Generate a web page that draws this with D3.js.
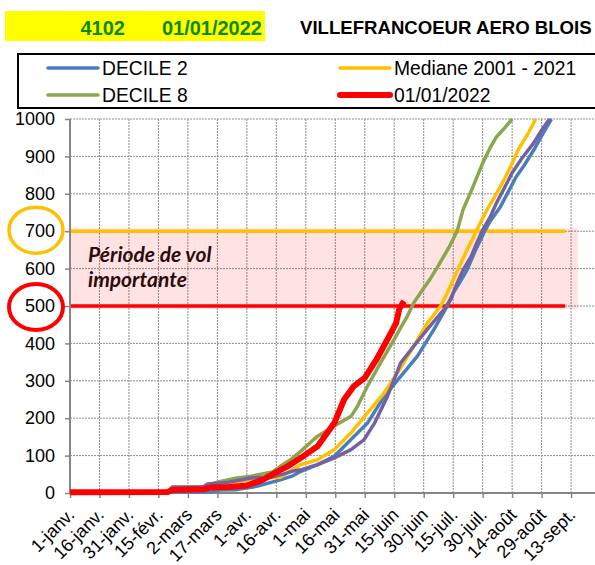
<!DOCTYPE html>
<html>
<head>
<meta charset="utf-8">
<script src="https://cdn.jsdelivr.net/npm/d3@7"></script>
<style>
  body { margin: 0; background: #fff; }
  svg { display: block; font-family: "Liberation Sans", Arial, sans-serif; }
</style>
</head>
<body>
<div class="chart_container"></div>
<script>
// x = days since 1 january
var tickLabels = ["1-janv.", "16-janv.", "31-janv.", "15-févr.", "2-mars", "17-mars", "1-avr.", "16-avr.",
    "1-mai", "16-mai", "31-mai", "15-juin", "30-juin", "15-juil.", "30-juil.", "14-août", "29-août", "13-sept."];
var yTicks = [0, 100, 200, 300, 400, 500, 600, 700, 800, 900, 1000];

var decile2Days = [0, 30, 50, 72, 76, 85, 88, 95, 100, 107, 113, 117.5, 126, 134.5, 143, 151.4, 160, 168.3, 176.8, 185.3, 192, 195, 198, 202, 206, 211, 214, 219, 223, 227, 231, 236, 240, 245];
var decile2Vals = [0, 1, 2, 3, 8, 9, 12, 18, 25, 35, 45, 58, 76, 98, 143, 187, 259, 312, 366, 438, 500, 535, 560, 596, 645, 700, 728, 765, 805, 845, 875, 917, 955, 1000];

var decile8Days = [0, 50, 52, 68, 72, 76, 85, 92, 103, 108, 112, 117.5, 126, 134.5, 143, 146.3, 151.4, 158, 165, 168.3, 171.7, 175, 178.5, 183, 187, 193, 197, 200, 205, 210, 214, 217, 221, 225];
var decile8Vals = [2, 3, 14, 16, 24, 30, 40, 45, 56, 75, 88, 112, 152, 179, 205, 232, 286, 348, 411, 442, 473, 509, 536, 570, 604, 658, 700, 757, 818, 882, 925, 952, 975, 1000];

var medianDays = [0, 45, 55, 70, 80, 90, 100, 107, 112, 117.5, 126, 134.5, 143, 151.4, 159.9, 168.3, 175, 181.9, 188.7, 192, 195, 199, 202, 205, 207, 210, 213, 217, 220, 224, 228, 233, 237];
var medianVals = [2, 3, 10, 12, 25, 35, 40, 42, 58, 76, 89, 116, 161, 214, 268, 335, 393, 455, 500, 535, 570, 615, 650, 680, 703, 735, 765, 800, 829, 870, 917, 960, 1000];

var otherDays = [0, 50, 52, 68, 70, 81, 92, 103, 108, 113, 117.5, 126, 134.5, 143, 149.7, 155, 161.6, 168.3, 175, 181.9, 190.4, 193.8, 197, 200, 204, 207, 210, 214, 217, 221, 225, 230, 236, 240, 244];
var otherVals = [2, 3, 16, 17, 24, 29, 40, 43, 50, 58, 62, 76, 94, 116, 143, 187, 259, 348, 393, 438, 491, 518, 561, 596, 631, 668, 703, 740, 775, 815, 856, 895, 936, 970, 1000];

var y2022Days = [0, 50, 52, 68, 72, 81, 90, 98, 103, 107, 111, 117.5, 126, 134.5, 139.5, 144.5, 150, 156, 162.5, 166, 167.5, 169, 170];
var y2022Vals = [2, 3, 8, 10, 15, 16, 20, 35, 50, 61, 72, 94, 125, 187, 250, 286, 308, 357, 420, 455, 491, 505, 513];

var thresholdLow = 500;
var thresholdHigh = 700;

var width = 595, height = 565;
var svg = d3.select(".chart_container").append("svg")
    .attr("width", width)
    .attr("height", height);

var x = d3.scaleLinear().domain([0, 270]).range([70, 70 + 270 * 1.965]);
var y = d3.scaleLinear().domain([0, 1000]).range([493, 119]);

// title
svg.append("rect")
    .attr("x", 5).attr("y", 11).attr("width", 260).attr("height", 30)
    .style("fill", "#ffff00");
svg.append("text")
    .attr("x", 125).attr("y", 35)
    .attr("text-anchor", "end")
    .style("font-size", "20px").style("font-weight", "bold").style("fill", "#0a8a0a")
    .text("4102");
svg.append("text")
    .attr("x", 262).attr("y", 35)
    .attr("text-anchor", "end")
    .style("font-size", "20px").style("font-weight", "bold").style("fill", "#0a8a0a")
    .text("01/01/2022");
svg.append("text")
    .attr("x", 300).attr("y", 34)
    .style("font-size", "18.6px").style("font-weight", "bold").style("fill", "#000")
    .text("VILLEFRANCOEUR AERO BLOIS");

// legend
var legend = svg.append("g");
legend.append("rect")
    .attr("x", 18).attr("y", 54).attr("width", 620).attr("height", 54)
    .style("fill", "#fff").style("stroke", "#000").style("stroke-width", 2);
var legendItems = [
    {label: "DECILE 2", color: "#4a7ebb", w: 3.5, lx: 48, ly: 68},
    {label: "DECILE 8", color: "#8aa64e", w: 3.5, lx: 48, ly: 95},
    {label: "Mediane 2001 - 2021", color: "#ffc000", w: 3.5, lx: 340, ly: 68},
    {label: "01/01/2022", color: "#ff0000", w: 6, lx: 340, ly: 95}
];
legend.selectAll(".legline")
    .data(legendItems)
    .enter().append("line")
        .attr("x1", d => d.lx).attr("x2", d => d.lx + 50)
        .attr("y1", d => d.ly).attr("y2", d => d.ly)
        .style("stroke", d => d.color)
        .style("stroke-width", d => d.w)
        .style("stroke-linecap", "round");
legend.selectAll(".legtext")
    .data(legendItems)
    .enter().append("text")
        .attr("x", d => d.lx + 54).attr("y", d => d.ly + 7)
        .style("font-size", "19.3px")
        .text(d => d.label);

// grid
var grid = svg.append("g");
grid.selectAll(".hgrid")
    .data(yTicks.slice(1))
    .enter().append("line")
        .attr("x1", x(0)).attr("x2", width)
        .attr("y1", d => y(d)).attr("y2", d => y(d))
        .style("stroke", "#8c8c8c").style("stroke-width", 1).style("stroke-dasharray", "2,1");
grid.selectAll(".vgrid")
    .data(tickLabels.slice(1))
    .enter().append("line")
        .attr("x1", (d, i) => x((i + 1) * 15)).attr("x2", (d, i) => x((i + 1) * 15))
        .attr("y1", y(1000)).attr("y2", y(0))
        .style("stroke", "#8c8c8c").style("stroke-width", 1).style("stroke-dasharray", "2,1");

// zone de vol
svg.append("rect")
    .attr("x", x(0)).attr("width", x(258.5) - x(0))
    .attr("y", y(thresholdHigh) - 3).attr("height", y(thresholdLow) - y(thresholdHigh) + 6)
    .style("fill", "#ff0000").style("fill-opacity", 0.11);

svg.append("line")
    .attr("x1", x(0)).attr("x2", x(252))
    .attr("y1", y(thresholdHigh)).attr("y2", y(thresholdHigh))
    .style("stroke", "#ffc000").style("stroke-width", 3.5);
svg.append("line")
    .attr("x1", x(0)).attr("x2", x(252))
    .attr("y1", y(thresholdLow)).attr("y2", y(thresholdLow))
    .style("stroke", "#ff0000").style("stroke-width", 3.5);

svg.append("text")
    .attr("x", 88).attr("y", 262)
    .style("font-family", "Lato, 'Open Sans', sans-serif")
    .style("font-size", "21px").style("font-weight", "bold").style("font-style", "italic")
    .style("fill", "#2b0b0b")
    .text("Période de vol");
svg.append("text")
    .attr("x", 88).attr("y", 287)
    .style("font-family", "Lato, 'Open Sans', sans-serif")
    .style("font-size", "21px").style("font-weight", "bold").style("font-style", "italic")
    .style("fill", "#2b0b0b")
    .text("importante");

// axes
var xAxis = d3.axisBottom(x)
    .tickValues(d3.range(0, 256, 15))
    .tickSize(5)
    .tickFormat((d, i) => tickLabels[i]);
var gx = svg.append("g")
    .attr("transform", "translate(0," + y(0) + ")")
    .call(xAxis);
gx.select(".domain").attr("d", "M" + x(0) + ",0H" + width).style("stroke", "#868686").style("stroke-width", 2);
gx.selectAll(".tick line").style("stroke", "#868686").style("stroke-width", 1.5);
gx.selectAll(".tick text")
    .style("font-size", "18px").style("font-family", "'Liberation Sans', Arial, sans-serif")
    .style("fill", "#000")
    .attr("text-anchor", "end")
    .attr("dy", null)
    .attr("y", 0)
    .attr("transform", "translate(5,23) rotate(-45)");

var yAxis = d3.axisLeft(y)
    .tickValues(yTicks)
    .tickFormat(d3.format("d"))
    .tickSize(5)
    .tickPadding(10);
var gy = svg.append("g")
    .attr("transform", "translate(" + x(0) + ",0)")
    .call(yAxis);
gy.select(".domain").attr("d", "M0," + y(0) + "V" + y(1000)).style("stroke", "#868686").style("stroke-width", 2);
gy.selectAll(".tick line").style("stroke", "#868686").style("stroke-width", 1.5);
gy.selectAll(".tick text")
    .style("font-size", "18px").style("font-family", "'Liberation Sans', Arial, sans-serif")
    .style("fill", "#000");

// series
var line = d3.line()
    .x(d => x(d[0]))
    .y(d => y(d[1]));

var series = [
    {days: decile2Days, vals: decile2Vals, color: "#4a7ebb", w: 3.5},
    {days: decile8Days, vals: decile8Vals, color: "#8aa64e", w: 3.5},
    {days: medianDays, vals: medianVals, color: "#ffc000", w: 3.5},
    {days: otherDays, vals: otherVals, color: "#7560a0", w: 3.5},
    {days: y2022Days, vals: y2022Vals, color: "#ff0000", w: 6}
];

svg.append("g").selectAll("path")
    .data(series)
    .enter().append("path")
        .attr("d", s => line(d3.zip(s.days, s.vals)))
        .style("fill", "none")
        .style("stroke", s => s.color)
        .style("stroke-width", s => s.w)
        .style("stroke-linejoin", "round");

// cercles autour des seuils
svg.append("ellipse")
    .attr("cx", 36).attr("cy", y(thresholdHigh) - 1).attr("rx", 27).attr("ry", 23)
    .style("fill", "none").style("stroke", "#ffc000").style("stroke-width", 3.5);
svg.append("ellipse")
    .attr("cx", 36).attr("cy", y(thresholdLow) + 1).attr("rx", 27).attr("ry", 23)
    .style("fill", "none").style("stroke", "#ff0000").style("stroke-width", 4);
</script>
</body>
</html>
